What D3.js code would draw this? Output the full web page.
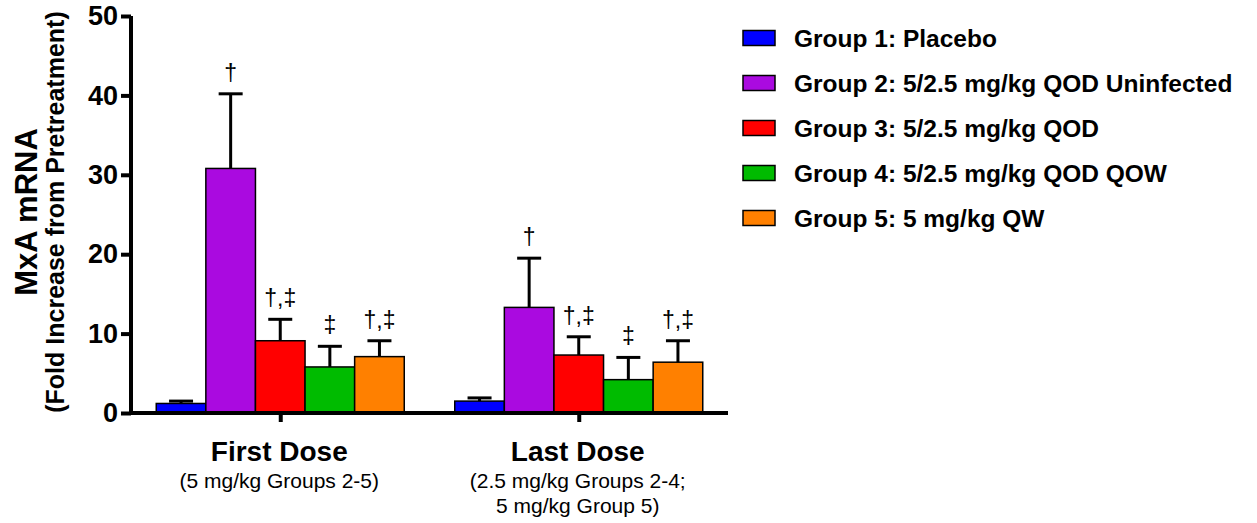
<!DOCTYPE html>
<html>
<head>
  <meta charset="utf-8">
  <title>MxA mRNA Fold Increase</title>
  <script src="https://d3js.org/d3.v7.min.js"></script>
  <style>
    body { margin: 0; background: #fff; font-family: Arial, "Liberation Sans", sans-serif; }
    .axis path, .axis line { stroke: #000; stroke-width: 4; }
    .y-axis text { font-size: 27px; font-weight: bold; fill: #000; }
    .bar { stroke: #000; stroke-width: 1.5; }
    .err { stroke: #000; stroke-width: 3; }
    .note { font-size: 23px; text-anchor: middle; fill: #000; }
    .dose-label { font-size: 28px; font-weight: bold; text-anchor: middle; }
    .dose-sub { font-size: 21px; text-anchor: middle; }
    .legend text { font-size: 24.5px; font-weight: bold; }
  </style>
</head>
<body>
  <div id="chart"></div>
  <script>
    // Data
    const groups = [
      "Group 1: Placebo",
      "Group 2: 5/2.5 mg/kg QOD Uninfected",
      "Group 3: 5/2.5 mg/kg QOD",
      "Group 4: 5/2.5 mg/kg QOD QOW",
      "Group 5: 5 mg/kg QW"
    ];
    const colors = ["#0000ff", "#aa0ae0", "#ff0000", "#00bb00", "#ff8000"];
    const doses = ["First Dose", "Last Dose"];
    const doseNotes = [["(5 mg/kg Groups 2-5)"], ["(2.5 mg/kg Groups 2-4;", "5 mg/kg Group 5)"]];
    const firstMean = [1.2, 30.8, 9.1, 5.8, 7.1];
    const firstErr  = [0.3, 9.4, 2.7, 2.6, 2.0];
    const lastMean  = [1.5, 13.3, 7.3, 4.2, 6.4];
    const lastErr   = [0.4, 6.2, 2.3, 2.8, 2.7];
    const marks     = ["", "†", "†,‡", "‡", "†,‡"];
    const yTicks    = [0, 10, 20, 30, 40, 50];

    const width = 1257, height = 523;
    const svg = d3.select("#chart").append("svg")
      .attr("width", width)
      .attr("height", height);

    const y = d3.scaleLinear().domain([0, 50]).range([413, 16]);
    const x0 = d3.scalePoint().domain(doses).range([131, 728]).padding(0.5);
    const x1 = d3.scaleBand().domain(groups).range([-124, 124]);

    const rows = [];
    doses.forEach((d, i) => {
      const m = i === 0 ? firstMean : lastMean;
      const e = i === 0 ? firstErr : lastErr;
      groups.forEach((g, j) => rows.push({dose: d, group: g, mean: m[j], err: e[j], mark: marks[j], color: colors[j]}));
    });

    // bars
    svg.selectAll(".bar").data(rows).enter().append("rect")
      .attr("class", "bar")
      .attr("x", d => x0(d.dose) + x1(d.group))
      .attr("width", x1.bandwidth())
      .attr("y", d => y(d.mean))
      .attr("height", d => y(0) - y(d.mean))
      .attr("fill", d => d.color);

    // error bars (upper only)
    const cx = d => x0(d.dose) + x1(d.group) + x1.bandwidth() / 2;
    svg.selectAll(".err-v").data(rows).enter().append("line")
      .attr("class", "err")
      .attr("x1", cx).attr("x2", cx)
      .attr("y1", d => y(d.mean)).attr("y2", d => y(d.mean + d.err));
    svg.selectAll(".err-h").data(rows).enter().append("line")
      .attr("class", "err")
      .attr("x1", d => cx(d) - 12).attr("x2", d => cx(d) + 12)
      .attr("y1", d => y(d.mean + d.err)).attr("y2", d => y(d.mean + d.err));

    // significance marks
    svg.selectAll(".note").data(rows.filter(d => d.mark)).enter().append("text")
      .attr("class", "note")
      .attr("x", cx)
      .attr("y", d => y(d.mean + d.err) - 13)
      .text(d => d.mark);

    // axes
    svg.append("g")
      .attr("class", "axis y-axis")
      .attr("transform", "translate(131,0)")
      .call(d3.axisLeft(y).tickValues(yTicks).tickSize(10).tickSizeOuter(0).tickPadding(3))
      .call(g => g.select(".domain").attr("d", "M0,415V16"));

    svg.append("g")
      .attr("class", "axis x-axis")
      .attr("transform", "translate(0,413)")
      .call(d3.axisBottom(x0).tickSize(9).tickSizeOuter(0).tickFormat(""))
      .call(g => g.select(".domain").attr("d", "M129,0H728"));

    // category labels
    svg.selectAll(".dose-label").data(doses).enter().append("text")
      .attr("class", "dose-label")
      .attr("x", d => x0(d) - 1)
      .attr("y", 461)
      .text(d => d);
    doses.forEach((d, i) => {
      doseNotes[i].forEach((t, k) => {
        svg.append("text")
          .attr("class", "dose-sub")
          .attr("x", x0(d) - 1)
          .attr("y", 488 + k * 25)
          .text(t);
      });
    });

    // y axis title
    svg.append("text")
      .attr("transform", "translate(37,212) rotate(-90)")
      .attr("text-anchor", "middle")
      .style("font-size", "31px").style("font-weight", "bold")
      .text("MxA mRNA");
    svg.append("text")
      .attr("transform", "translate(64,212) rotate(-90)")
      .attr("text-anchor", "middle")
      .style("font-size", "25px").style("font-weight", "bold")
      .text("(Fold Increase from Pretreatment)");

    // legend
    const legend = svg.append("g").attr("class", "legend");
    const item = legend.selectAll("g").data(groups).enter().append("g")
      .attr("transform", (d, i) => `translate(743,${38 + i * 45})`);
    item.append("rect")
      .attr("x", 0).attr("y", -7.5)
      .attr("width", 32).attr("height", 15)
      .attr("fill", (d, i) => colors[i])
      .attr("stroke", "#000").attr("stroke-width", 1.5);
    item.append("text")
      .attr("x", 51).attr("y", 8.5)
      .text(d => d);
  </script>
</body>
</html>
